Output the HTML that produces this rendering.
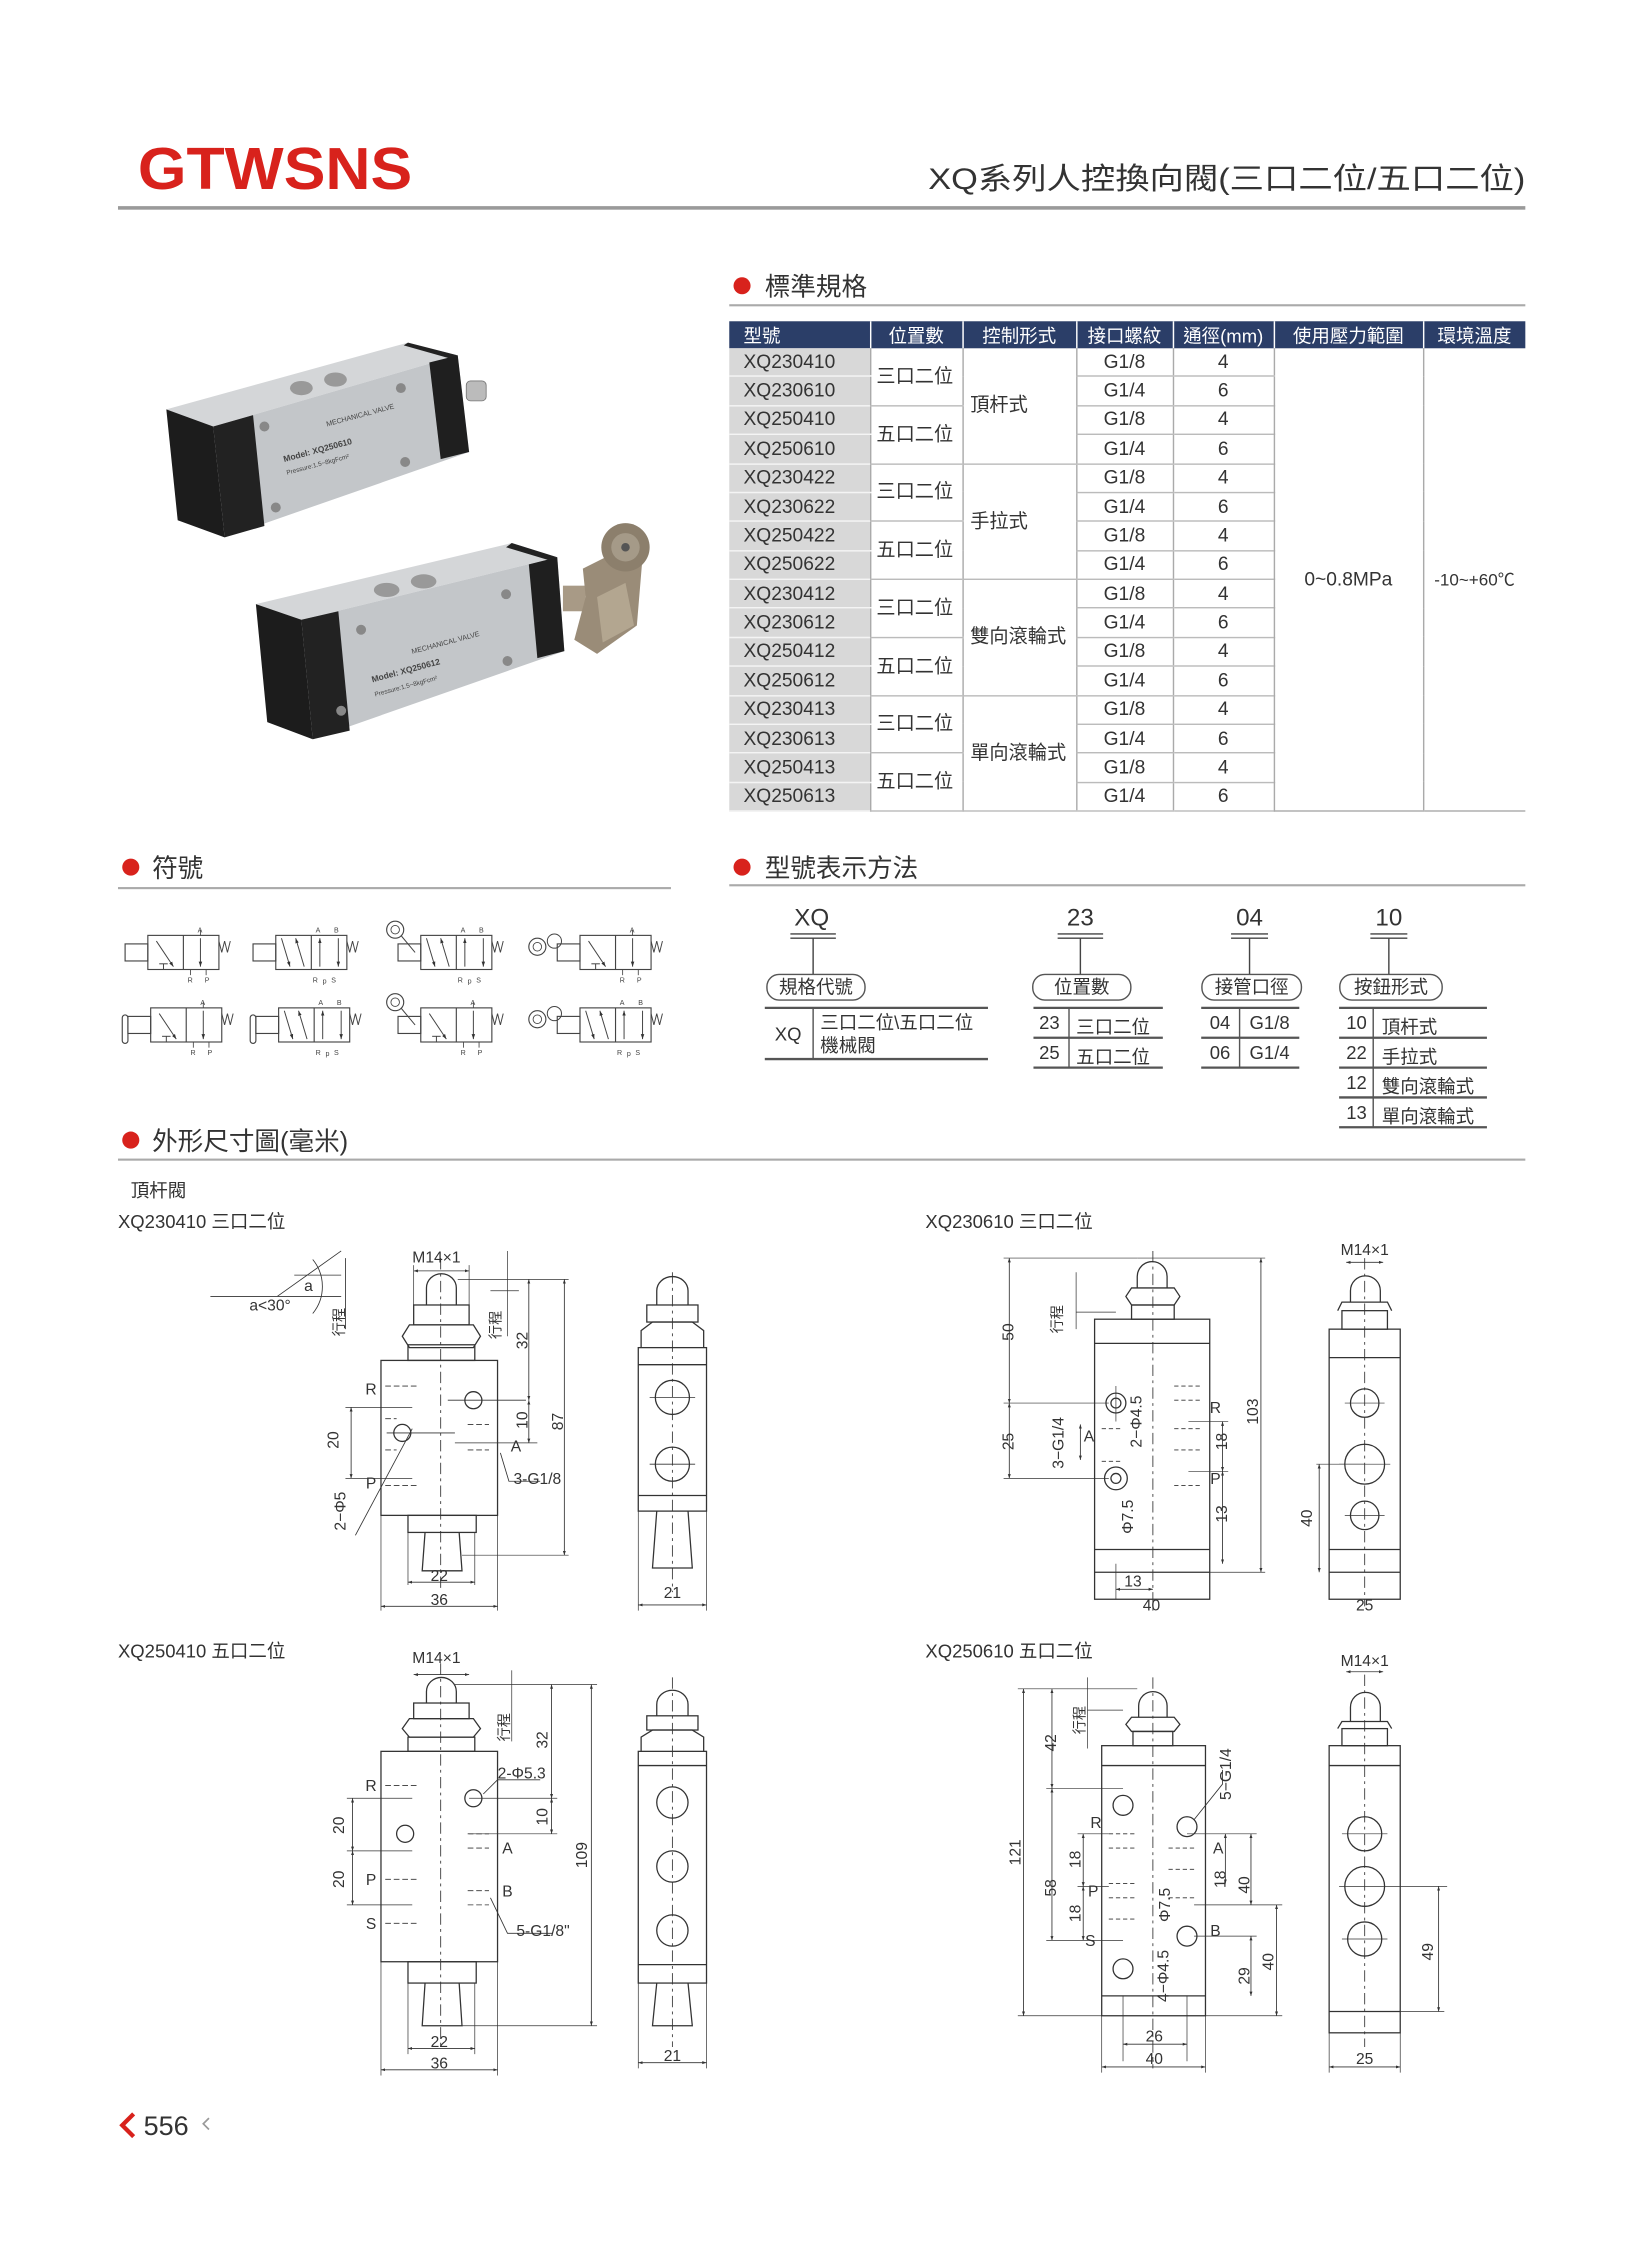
<!DOCTYPE html>
<html><head><meta charset="utf-8">
<style>
html,body{margin:0;padding:0;background:#fff;}
body{width:1649px;height:2243px;overflow:hidden;position:relative;}
#w{position:absolute;left:0;top:0;width:1160px;height:1578px;transform:scale(1.42155);transform-origin:0 0;font-family:"Liberation Sans","Noto Sans CJK TC",sans-serif;color:#333;}
.abs{position:absolute;}
table.spec{position:absolute;left:513px;top:226px;width:560px;border-collapse:collapse;table-layout:fixed;font-size:13.5px;color:#333;}
table.spec th{background:#2b3e68;color:#fff;font-weight:normal;height:19px;padding:0;font-size:13px;border-left:1px solid #fff;text-align:center;}
table.spec th:first-child{text-align:left;padding-left:10px;border-left:none;}
table.spec td{height:19.375px;padding:0;border-bottom:1px solid #bbb;border-left:1px solid #aaa;text-align:center;line-height:14px;}
table.spec td.m{background:#d8d8d8;text-align:left;padding-left:10px;border-bottom:1px solid #f4f4f4;border-left:none;}
table.spec td.p{text-align:left;padding-left:4px;}
table.spec td.c{text-align:left;padding-left:5px;}
.code{position:absolute;font-size:13px;color:#333;}
.pill{position:absolute;height:17px;border:1px solid #555;border-radius:9px;text-align:center;font-size:13px;line-height:17px;background:#fff;}
.big{position:absolute;font-size:17px;text-align:center;}
</style></head><body><div id="w">

<svg class="abs" style="left:0;top:0" width="1160" height="1578" viewBox="0 0 1160 1578" font-family="Liberation Sans, Noto Sans CJK TC, sans-serif">
<defs>
<marker id="ar" viewBox="0 0 10 10" refX="10" refY="5" markerWidth="5" markerHeight="5" orient="auto-start-reverse"><path d="M0,1.5 L10,5 L0,8.5 z" fill="#333"/></marker>
<g id="sym3">
 <rect x="0" y="12" width="16" height="12" fill="none" stroke="#444" stroke-width="0.8"/>
 <rect x="16" y="6" width="50" height="24" fill="none" stroke="#444" stroke-width="0.8"/>
 <line x1="41" y1="6" x2="41" y2="30" stroke="#444" stroke-width="0.8"/>
 <line x1="22" y1="10" x2="34" y2="28" stroke="#444" stroke-width="0.7" marker-end="url(#ar)"/>
 <line x1="53" y1="8" x2="53" y2="28" stroke="#444" stroke-width="0.7" marker-end="url(#ar)"/>
 <line x1="24" y1="26" x2="30" y2="26" stroke="#444" stroke-width="0.7"/>
 <line x1="27" y1="26" x2="27" y2="30" stroke="#444" stroke-width="0.7"/>
 <path d="M66,10 l2,8 l2,-8 l2,8 l2,-8" fill="none" stroke="#444" stroke-width="0.7"/>
 <line x1="53" y1="2" x2="53" y2="6" stroke="#444" stroke-width="0.6"/>
 <line x1="46" y1="30" x2="46" y2="34" stroke="#444" stroke-width="0.6"/><line x1="57" y1="30" x2="57" y2="34" stroke="#444" stroke-width="0.6"/>
 <text x="51" y="4" font-size="5" fill="#444">A</text><text x="44" y="39" font-size="5" fill="#444">R</text><text x="56" y="39" font-size="5" fill="#444">P</text>
</g>
<g id="sym5">
 <rect x="0" y="12" width="16" height="12" fill="none" stroke="#444" stroke-width="0.8"/>
 <rect x="16" y="6" width="50" height="24" fill="none" stroke="#444" stroke-width="0.8"/>
 <line x1="41" y1="6" x2="41" y2="30" stroke="#444" stroke-width="0.8"/>
 <line x1="20" y1="8" x2="26" y2="28" stroke="#444" stroke-width="0.7" marker-end="url(#ar)"/>
 <line x1="36" y1="28" x2="30" y2="8" stroke="#444" stroke-width="0.7" marker-end="url(#ar)"/>
 <line x1="47" y1="28" x2="47" y2="8" stroke="#444" stroke-width="0.7" marker-end="url(#ar)"/>
 <line x1="60" y1="8" x2="60" y2="28" stroke="#444" stroke-width="0.7" marker-end="url(#ar)"/>
 <path d="M66,10 l2,8 l2,-8 l2,8 l2,-8" fill="none" stroke="#444" stroke-width="0.7"/>
 <text x="44" y="4" font-size="5" fill="#444">A</text><text x="57" y="4" font-size="5" fill="#444">B</text>
 <text x="42" y="39" font-size="5" fill="#444">R</text><text x="49" y="40" font-size="5" fill="#444">p</text><text x="55" y="39" font-size="5" fill="#444">S</text>
</g>
</defs>

<!-- header -->
<text x="97" y="133" font-size="42" font-weight="bold" fill="#d8221c" textLength="193" lengthAdjust="spacingAndGlyphs">GTWSNS</text>
<text x="653" y="133" font-size="21" fill="#333" textLength="420" lengthAdjust="spacingAndGlyphs">XQ系列人控換向閥(三口二位/五口二位)</text>
<rect x="83" y="145" width="990" height="2.5" fill="#9a9a9a"/>

<!-- photo -->
<g>
 <polygon points="117,288 287,241 322,250 150,300" fill="#d4d6d8"/>
 <polygon points="150,300 322,250 330,318 158,378" fill="#c3c6c9"/>
 <polygon points="117,288 150,300 158,378 125,366" fill="#1c1c1c"/>
 <polygon points="150,300 178,292 186,370 158,378" fill="#222"/>
 <polygon points="287,241 322,250 316,252 284,243" fill="#222"/>
 <polygon points="302,255 322,250 330,318 310,323" fill="#1f1f1f"/>
 <rect x="328" y="268" width="14" height="14" rx="3" fill="#bbb" stroke="#777" stroke-width="0.6"/>
 <ellipse cx="212" cy="273" rx="8" ry="5" fill="#999"/><ellipse cx="236" cy="267" rx="8" ry="5" fill="#999"/>
 <circle cx="186" cy="300" r="3.5" fill="#888"/><circle cx="282" cy="273" r="3.5" fill="#888"/><circle cx="285" cy="325" r="3.5" fill="#888"/><circle cx="194" cy="357" r="3.5" fill="#888"/>
 <text x="230" y="300" font-size="5" fill="#444" transform="rotate(-15 230 300)">MECHANICAL VALVE</text>
 <text x="200" y="325" font-size="6" font-weight="bold" fill="#444" transform="rotate(-15 200 325)">Model: XQ250610</text>
 <text x="202" y="334" font-size="4.5" fill="#444" transform="rotate(-15 202 334)">Pressure:1.5~8kgFcm²</text>

 <polygon points="180,425 360,382 392,392 212,436" fill="#d4d6d8"/>
 <polygon points="212,436 392,392 397,458 220,520" fill="#c3c6c9"/>
 <polygon points="180,425 212,436 220,520 188,508" fill="#1c1c1c"/>
 <polygon points="212,436 238,430 246,514 220,520" fill="#222"/>
 <polygon points="372,397 392,392 397,458 378,463" fill="#1f1f1f"/>
 <polygon points="360,382 392,392 386,394 356,385" fill="#222"/>
 <ellipse cx="272" cy="415" rx="9" ry="5" fill="#999"/><ellipse cx="298" cy="409" rx="9" ry="5" fill="#999"/>
 <circle cx="254" cy="443" r="3.5" fill="#888"/><circle cx="356" cy="418" r="3.5" fill="#888"/><circle cx="357" cy="465" r="3.5" fill="#888"/><circle cx="240" cy="500" r="3.5" fill="#888"/>
 <text x="290" y="460" font-size="5" fill="#444" transform="rotate(-15 290 460)">MECHANICAL VALVE</text>
 <text x="262" y="480" font-size="6" font-weight="bold" fill="#444" transform="rotate(-15 262 480)">Model: XQ250612</text>
 <text x="264" y="490" font-size="4.5" fill="#444" transform="rotate(-15 264 490)">Pressure:1.5~8kgFcm²</text>
 <rect x="396" y="412" width="16" height="18" fill="#a89a86"/>
 <polygon points="410,400 440,385 452,392 448,440 420,460 404,450 412,420" fill="#9a8c78"/>
 <polygon points="420,420 440,410 446,440 424,452" fill="#b3a690"/>
 <circle cx="440" cy="385" r="17" fill="#8c7f6c"/><circle cx="440" cy="385" r="10" fill="#a59a88"/><circle cx="440" cy="385" r="3" fill="#555"/>
</g>

<!-- section headers -->
<circle cx="522" cy="201" r="6" fill="#d8221c"/>
<text x="538" y="208" font-size="18" fill="#333">標準規格</text>
<rect x="513" y="214" width="560" height="1.5" fill="#aaa"/>

<circle cx="92" cy="610" r="6" fill="#d8221c"/>
<text x="107" y="617" font-size="18" fill="#333">符號</text>
<rect x="83" y="624" width="389" height="1.5" fill="#aaa"/>

<circle cx="522" cy="610" r="6" fill="#d8221c"/>
<text x="538" y="617" font-size="18" fill="#333">型號表示方法</text>
<rect x="513" y="622" width="560" height="1.5" fill="#aaa"/>

<circle cx="92" cy="802" r="6" fill="#d8221c"/>
<text x="107" y="809" font-size="18" fill="#333">外形尺寸圖(毫米)</text>
<rect x="83" y="815" width="990" height="1.5" fill="#aaa"/>

<!-- symbols -->
<use href="#sym3" x="88" y="652"/>
<use href="#sym5" x="178" y="652"/>
<g transform="translate(270,646)"><circle cx="8" cy="8" r="6" fill="none" stroke="#444" stroke-width="0.8"/><circle cx="8" cy="8" r="3" fill="none" stroke="#444" stroke-width="0.6"/><line x1="12" y1="12" x2="22" y2="24" stroke="#444" stroke-width="0.7"/></g>
<use href="#sym5" x="280" y="652"/>
<g transform="translate(370,652)"><circle cx="8" cy="14" r="6" fill="none" stroke="#444" stroke-width="0.8"/><circle cx="8" cy="14" r="3" fill="none" stroke="#444" stroke-width="0.6"/><circle cx="20" cy="10" r="5" fill="none" stroke="#444" stroke-width="0.7"/></g>
<use href="#sym3" x="392" y="652"/>

<g transform="translate(86,706)"><rect x="0" y="8" width="4" height="20" rx="2" fill="none" stroke="#444" stroke-width="0.8"/></g>
<use href="#sym3" x="90" y="703"/>
<g transform="translate(176,706)"><rect x="0" y="8" width="4" height="20" rx="2" fill="none" stroke="#444" stroke-width="0.8"/></g>
<use href="#sym5" x="180" y="703"/>
<g transform="translate(270,697)"><circle cx="8" cy="8" r="6" fill="none" stroke="#444" stroke-width="0.8"/><circle cx="8" cy="8" r="3" fill="none" stroke="#444" stroke-width="0.6"/><line x1="12" y1="12" x2="22" y2="24" stroke="#444" stroke-width="0.7"/></g>
<use href="#sym3" x="280" y="703"/>
<g transform="translate(370,703)"><circle cx="8" cy="14" r="6" fill="none" stroke="#444" stroke-width="0.8"/><circle cx="8" cy="14" r="3" fill="none" stroke="#444" stroke-width="0.6"/><circle cx="20" cy="10" r="5" fill="none" stroke="#444" stroke-width="0.7"/></g>
<use href="#sym5" x="392" y="703"/>

<!-- model code lines -->
<g stroke="#444" stroke-width="1" fill="none">
 <line x1="556" y1="657" x2="588" y2="657"/><line x1="556" y1="660" x2="588" y2="660"/><line x1="572" y1="660" x2="572" y2="686"/>
 <line x1="744" y1="657" x2="776" y2="657"/><line x1="744" y1="660" x2="776" y2="660"/><line x1="760" y1="660" x2="760" y2="686"/>
 <line x1="866" y1="657" x2="892" y2="657"/><line x1="866" y1="660" x2="892" y2="660"/><line x1="879" y1="660" x2="879" y2="686"/>
 <line x1="964" y1="657" x2="990" y2="657"/><line x1="964" y1="660" x2="990" y2="660"/><line x1="977" y1="660" x2="977" y2="686"/>
</g>
<g stroke="#555" stroke-width="1.6">
 <line x1="538" y1="709" x2="695" y2="709"/><line x1="538" y1="745" x2="695" y2="745"/>
 <line x1="727" y1="709" x2="818" y2="709"/><line x1="727" y1="730" x2="818" y2="730"/><line x1="727" y1="751" x2="818" y2="751"/>
 <line x1="845" y1="709" x2="914" y2="709"/><line x1="845" y1="730" x2="914" y2="730"/><line x1="845" y1="751" x2="914" y2="751"/>
 <line x1="942" y1="709" x2="1046" y2="709"/><line x1="942" y1="730" x2="1046" y2="730"/><line x1="942" y1="751" x2="1046" y2="751"/><line x1="942" y1="772" x2="1046" y2="772"/><line x1="942" y1="793" x2="1046" y2="793"/>
</g>
<g stroke="#555" stroke-width="1">
 <line x1="572" y1="709" x2="572" y2="745"/><line x1="752" y1="709" x2="752" y2="751"/><line x1="872" y1="709" x2="872" y2="751"/><line x1="966" y1="709" x2="966" y2="793"/>
</g>

<!-- drawings -->
<g font-size="11" fill="#333">
<text x="92" y="842" font-size="13">頂杆閥</text>
<text x="83" y="864" font-size="13">XQ230410 三口二位</text>
<text x="651" y="864" font-size="13">XQ230610 三口二位</text>
<text x="83" y="1166" font-size="13">XQ250410 五口二位</text>
<text x="651" y="1166" font-size="13">XQ250610 五口二位</text>
</g>

<g stroke="#333" stroke-width="0.9" fill="none">
 <!-- D1 front -->
 <rect x="268" y="957" width="82" height="109"/>
 <rect x="287" y="946" width="47" height="11"/>
 <path d="M283,940 l5,-8 h45 l5,8 l-5,8 h-45 z"/>
 <rect x="291" y="918" width="39" height="14"/>
 <path d="M300,918 v-12 a10.5,10 0 0 1 21,0 v12"/>
 <rect x="287" y="1066" width="48" height="12"/>
 <path d="M299,1078 l-2,27 h28 l-2,-27"/>
 <line x1="310" y1="885" x2="310" y2="1120" stroke-dasharray="8,3,2,3" stroke-width="0.6"/>
 <circle cx="283" cy="1008" r="6"/><circle cx="333" cy="985" r="6"/>
 <line x1="272" y1="1008" x2="320" y2="1008" stroke-width="0.6"/><line x1="315" y1="985" x2="370" y2="985" stroke-width="0.6"/>
 <path d="M271,975 h10 M283,975 h4 M289,975 h4 M271,1045 h10 M283,1045 h4 M289,1045 h4 M271,998 h8 M271,1020 h8 M329,1002 h15 M329,1020 h15" stroke-dasharray="4,2" stroke-width="0.6"/>
 <!-- dims -->
 <line x1="291" y1="894" x2="330" y2="894" marker-start="url(#ar)" marker-end="url(#ar)" stroke-width="0.6"/>
 <line x1="291" y1="890" x2="291" y2="918" stroke-width="0.5"/><line x1="330" y1="890" x2="330" y2="918" stroke-width="0.5"/>
 <line x1="322" y1="900" x2="400" y2="900" stroke-width="0.5"/>
 <line x1="372" y1="900" x2="372" y2="985" marker-start="url(#ar)" marker-end="url(#ar)" stroke-width="0.6"/>
 <line x1="372" y1="985" x2="372" y2="1015" marker-start="url(#ar)" marker-end="url(#ar)" stroke-width="0.6"/>
 <line x1="320" y1="1015" x2="378" y2="1015" stroke-width="0.5"/>
 <line x1="397" y1="900" x2="397" y2="1094" marker-start="url(#ar)" marker-end="url(#ar)" stroke-width="0.6"/>
 <line x1="325" y1="1094" x2="400" y2="1094" stroke-width="0.5"/>
 <line x1="247" y1="990" x2="247" y2="1040" marker-start="url(#ar)" marker-end="url(#ar)" stroke-width="0.6"/>
 <line x1="243" y1="990" x2="290" y2="990" stroke-width="0.5"/><line x1="243" y1="1040" x2="290" y2="1040" stroke-width="0.5"/>
 <line x1="287" y1="1078" x2="287" y2="1115" stroke-width="0.5"/><line x1="334" y1="1078" x2="334" y2="1115" stroke-width="0.5"/>
 <line x1="287" y1="1113" x2="334" y2="1113" marker-start="url(#ar)" marker-end="url(#ar)" stroke-width="0.6"/>
 <line x1="268" y1="1066" x2="268" y2="1133" stroke-width="0.5"/><line x1="350" y1="1066" x2="350" y2="1133" stroke-width="0.5"/>
 <line x1="268" y1="1130" x2="350" y2="1130" marker-start="url(#ar)" marker-end="url(#ar)" stroke-width="0.6"/>
 <path d="M352,1022 l6,20 h22" stroke-width="0.6"/>
 <path d="M250,1080 l40,-75" stroke-width="0.6"/>
 <!-- angle sketch -->
 <line x1="148" y1="912" x2="240" y2="912" stroke-width="0.6"/><line x1="195" y1="912" x2="240" y2="880" stroke-width="0.6"/>
 <line x1="207" y1="897" x2="240" y2="897" stroke-width="0.6"/>
 <path d="M220,886 a30,30 0 0 1 0,38" stroke-width="0.6"/>
 <line x1="243" y1="885" x2="243" y2="935" stroke-width="0.6"/>
 <!-- stroke mark -->
 <line x1="345" y1="908" x2="365" y2="908" stroke-width="0.5"/><line x1="357" y1="880" x2="357" y2="940" stroke-width="0.5"/>

 <!-- D1 side -->
 <rect x="449" y="948" width="48" height="115"/>
 <line x1="449" y1="960" x2="497" y2="960"/><line x1="449" y1="1052" x2="497" y2="1052"/>
 <path d="M451,948 v-12 l8,-6 h28 l8,6 v12"/>
 <rect x="455" y="918" width="36" height="12"/>
 <path d="M462,918 v-10 a11,10 0 0 1 22,0 v10"/>
 <path d="M462,1063 l-3,40 h28 l-3,-40"/>
 <circle cx="473" cy="983" r="12"/><circle cx="473" cy="1030" r="12"/>
 <line x1="473" y1="895" x2="473" y2="1120" stroke-dasharray="8,3,2,3" stroke-width="0.6"/>
 <line x1="457" y1="983" x2="489" y2="983" stroke-width="0.6"/><line x1="457" y1="1030" x2="489" y2="1030" stroke-width="0.6"/>
 <line x1="449" y1="1063" x2="449" y2="1133" stroke-width="0.5"/><line x1="497" y1="1063" x2="497" y2="1133" stroke-width="0.5"/>
 <line x1="449" y1="1129" x2="497" y2="1129" marker-start="url(#ar)" marker-end="url(#ar)" stroke-width="0.6"/>

 <!-- D2 front -->
 <rect x="770" y="928" width="81" height="197"/>
 <line x1="770" y1="945" x2="851" y2="945"/><line x1="770" y1="1090" x2="851" y2="1090"/><line x1="770" y1="1106" x2="851" y2="1106"/>
 <rect x="796" y="918" width="30" height="10"/>
 <path d="M792,912 l4,-6 h30 l4,6 l-4,6 h-30 z"/>
 <path d="M800,906 v-8 a10,10 0 0 1 21,0 v8"/>
 <line x1="811" y1="880" x2="811" y2="1135" stroke-dasharray="8,3,2,3" stroke-width="0.6"/>
 <circle cx="785" cy="987" r="7"/><circle cx="785" cy="987" r="3.5"/>
 <circle cx="785" cy="1040" r="8"/><circle cx="785" cy="1040" r="3.5"/>
 <line x1="785" y1="975" x2="785" y2="1000" stroke-width="0.5"/>
 <path d="M826,975 h20 M826,985 h20 M826,1005 h20 M826,1020 h20 M826,1045 h20 M775,1005 h15 M775,1028 h15" stroke-dasharray="3,2" stroke-width="0.6"/>
 <line x1="800" y1="885" x2="890" y2="885" stroke-width="0.5"/>
 <line x1="887" y1="885" x2="887" y2="1106" marker-start="url(#ar)" marker-end="url(#ar)" stroke-width="0.6"/>
 <line x1="851" y1="1106" x2="890" y2="1106" stroke-width="0.5"/>
 <line x1="706" y1="885" x2="800" y2="885" stroke-width="0.5"/>
 <line x1="710" y1="885" x2="710" y2="987" marker-start="url(#ar)" marker-end="url(#ar)" stroke-width="0.6"/>
 <line x1="710" y1="987" x2="710" y2="1040" marker-start="url(#ar)" marker-end="url(#ar)" stroke-width="0.6"/>
 <line x1="706" y1="987" x2="780" y2="987" stroke-width="0.5"/><line x1="706" y1="1040" x2="780" y2="1040" stroke-width="0.5"/>
 <line x1="860" y1="1000" x2="860" y2="1035" marker-start="url(#ar)" marker-end="url(#ar)" stroke-width="0.6"/>
 <line x1="860" y1="1035" x2="860" y2="1100" marker-start="url(#ar)" marker-end="url(#ar)" stroke-width="0.6"/>
 <line x1="836" y1="1000" x2="864" y2="1000" stroke-width="0.5"/><line x1="836" y1="1035" x2="864" y2="1035" stroke-width="0.5"/>
 <line x1="760" y1="1002" x2="760" y2="1027" marker-start="url(#ar)" marker-end="url(#ar)" stroke-width="0.6"/>
 <line x1="785" y1="1100" x2="785" y2="1125" stroke-width="0.5"/>
 <line x1="785" y1="1118" x2="811" y2="1118" marker-start="url(#ar)" marker-end="url(#ar)" stroke-width="0.6"/>
 <line x1="757" y1="895" x2="757" y2="935" stroke-width="0.5"/><line x1="757" y1="923" x2="785" y2="923" stroke-width="0.5"/>
 <!-- D2 side -->
 <rect x="935" y="935" width="50" height="190"/>
 <line x1="935" y1="955" x2="985" y2="955"/><line x1="935" y1="1090" x2="985" y2="1090"/><line x1="935" y1="1106" x2="985" y2="1106"/>
 <rect x="944" y="922" width="32" height="13"/>
 <path d="M941,922 l3,-6 h32 l3,6"/>
 <path d="M950,916 v-8 a10,10 0 0 1 21,0 v8"/>
 <line x1="960" y1="885" x2="960" y2="1130" stroke-dasharray="8,3,2,3" stroke-width="0.6"/>
 <circle cx="960" cy="987" r="10"/><circle cx="960" cy="1030" r="14"/><circle cx="960" cy="1066" r="10"/>
 <line x1="946" y1="987" x2="974" y2="987" stroke-width="0.5"/><line x1="942" y1="1030" x2="978" y2="1030" stroke-width="0.5"/><line x1="946" y1="1066" x2="974" y2="1066" stroke-width="0.5"/>
 <line x1="947" y1="888" x2="973" y2="888" marker-start="url(#ar)" marker-end="url(#ar)" stroke-width="0.6"/>
 <line x1="926" y1="1030" x2="960" y2="1030" stroke-width="0.5"/>
 <line x1="928" y1="1030" x2="928" y2="1106" marker-start="url(#ar)" marker-end="url(#ar)" stroke-width="0.6"/>

 <!-- D3 front -->
 <rect x="268" y="1232" width="82" height="148"/>
 <rect x="287" y="1222" width="47" height="10"/>
 <path d="M283,1216 l5,-7 h45 l5,7 l-5,6 h-45 z"/>
 <rect x="291" y="1198" width="39" height="11"/>
 <path d="M300,1198 v-8 a10.5,10 0 0 1 21,0 v8"/>
 <rect x="287" y="1380" width="48" height="15"/>
 <path d="M299,1395 l-2,30 h28 l-2,-30"/>
 <line x1="310" y1="1170" x2="310" y2="1440" stroke-dasharray="8,3,2,3" stroke-width="0.6"/>
 <circle cx="285" cy="1290" r="6"/><circle cx="333" cy="1265" r="6"/>
 <path d="M271,1256 h10 M283,1256 h4 M289,1256 h4 M271,1322 h10 M283,1322 h4 M289,1322 h4 M271,1353 h10 M283,1353 h4 M289,1353 h4 M329,1290 h15 M329,1300 h15 M329,1330 h15 M329,1340 h15" stroke-dasharray="4,2" stroke-width="0.6"/>
 <line x1="291" y1="1178" x2="330" y2="1178" marker-start="url(#ar)" marker-end="url(#ar)" stroke-width="0.6"/>
 <line x1="320" y1="1185" x2="420" y2="1185" stroke-width="0.5"/>
 <line x1="388" y1="1185" x2="388" y2="1265" marker-start="url(#ar)" marker-end="url(#ar)" stroke-width="0.6"/>
 <line x1="388" y1="1265" x2="388" y2="1290" marker-start="url(#ar)" marker-end="url(#ar)" stroke-width="0.6"/>
 <line x1="330" y1="1265" x2="392" y2="1265" stroke-width="0.5"/><line x1="330" y1="1290" x2="392" y2="1290" stroke-width="0.5"/>
 <line x1="416" y1="1185" x2="416" y2="1425" marker-start="url(#ar)" marker-end="url(#ar)" stroke-width="0.6"/>
 <line x1="325" y1="1425" x2="420" y2="1425" stroke-width="0.5"/>
 <line x1="248" y1="1265" x2="248" y2="1302" marker-start="url(#ar)" marker-end="url(#ar)" stroke-width="0.6"/>
 <line x1="248" y1="1302" x2="248" y2="1340" marker-start="url(#ar)" marker-end="url(#ar)" stroke-width="0.6"/>
 <line x1="244" y1="1265" x2="290" y2="1265" stroke-width="0.5"/><line x1="244" y1="1302" x2="290" y2="1302" stroke-width="0.5"/><line x1="244" y1="1340" x2="290" y2="1340" stroke-width="0.5"/>
 <line x1="287" y1="1395" x2="287" y2="1445" stroke-width="0.5"/><line x1="334" y1="1395" x2="334" y2="1445" stroke-width="0.5"/>
 <line x1="287" y1="1441" x2="334" y2="1441" marker-start="url(#ar)" marker-end="url(#ar)" stroke-width="0.6"/>
 <line x1="268" y1="1380" x2="268" y2="1460" stroke-width="0.5"/><line x1="350" y1="1380" x2="350" y2="1460" stroke-width="0.5"/>
 <line x1="268" y1="1456" x2="350" y2="1456" marker-start="url(#ar)" marker-end="url(#ar)" stroke-width="0.6"/>
 <path d="M340,1262 l10,-10 h30" stroke-width="0.6"/><path d="M345,1335 l12,25 h32" stroke-width="0.6"/>
 <line x1="360" y1="1175" x2="360" y2="1225" stroke-width="0.5"/>
 <!-- D3 side -->
 <rect x="449" y="1232" width="48" height="163"/>
 <line x1="449" y1="1242" x2="497" y2="1242"/><line x1="449" y1="1382" x2="497" y2="1382"/>
 <path d="M451,1232 v-10 l8,-5 h28 l8,5 v10"/>
 <rect x="455" y="1207" width="36" height="10"/>
 <path d="M462,1207 v-8 a11,10 0 0 1 22,0 v8"/>
 <path d="M462,1395 l-3,30 h28 l-3,-30"/>
 <circle cx="473" cy="1268" r="11"/><circle cx="473" cy="1313" r="11"/><circle cx="473" cy="1358" r="11"/>
 <line x1="473" y1="1180" x2="473" y2="1440" stroke-dasharray="8,3,2,3" stroke-width="0.6"/>
 <line x1="449" y1="1395" x2="449" y2="1455" stroke-width="0.5"/><line x1="497" y1="1395" x2="497" y2="1455" stroke-width="0.5"/>
 <line x1="449" y1="1451" x2="497" y2="1451" marker-start="url(#ar)" marker-end="url(#ar)" stroke-width="0.6"/>

 <!-- D4 front -->
 <rect x="775" y="1228" width="73" height="190"/>
 <line x1="775" y1="1242" x2="848" y2="1242"/><line x1="775" y1="1404" x2="848" y2="1404"/>
 <rect x="797" y="1218" width="28" height="10"/>
 <path d="M792,1213 l4,-5 h30 l4,5 l-4,5 h-30 z"/>
 <path d="M801,1208 v-8 a10,10 0 0 1 20,0 v8"/>
 <line x1="811" y1="1180" x2="811" y2="1455" stroke-dasharray="8,3,2,3" stroke-width="0.6"/>
 <circle cx="790" cy="1270" r="7"/><circle cx="835" cy="1285" r="7"/><circle cx="790" cy="1385" r="7"/><circle cx="835" cy="1362" r="7"/>
 <path d="M780,1290 h20 M780,1300 h20 M780,1325 h20 M780,1335 h20 M780,1350 h20 M822,1300 h18 M822,1315 h18 M822,1335 h18" stroke-dasharray="3,2" stroke-width="0.6"/>
 <line x1="716" y1="1188" x2="800" y2="1188" stroke-width="0.5"/>
 <line x1="720" y1="1188" x2="720" y2="1418" marker-start="url(#ar)" marker-end="url(#ar)" stroke-width="0.6"/>
 <line x1="716" y1="1418" x2="775" y2="1418" stroke-width="0.5"/>
 <line x1="740" y1="1188" x2="740" y2="1258" marker-start="url(#ar)" marker-end="url(#ar)" stroke-width="0.6"/>
 <line x1="740" y1="1258" x2="740" y2="1365" marker-start="url(#ar)" marker-end="url(#ar)" stroke-width="0.6"/>
 <line x1="736" y1="1258" x2="790" y2="1258" stroke-width="0.5"/><line x1="736" y1="1365" x2="790" y2="1365" stroke-width="0.5"/>
 <line x1="762" y1="1290" x2="762" y2="1327" marker-start="url(#ar)" marker-end="url(#ar)" stroke-width="0.6"/>
 <line x1="762" y1="1327" x2="762" y2="1365" marker-start="url(#ar)" marker-end="url(#ar)" stroke-width="0.6"/>
 <line x1="758" y1="1290" x2="780" y2="1290" stroke-width="0.5"/><line x1="758" y1="1327" x2="780" y2="1327" stroke-width="0.5"/>
 <line x1="862" y1="1290" x2="862" y2="1325" marker-start="url(#ar)" marker-end="url(#ar)" stroke-width="0.6"/>
 <line x1="880" y1="1290" x2="880" y2="1340" marker-start="url(#ar)" marker-end="url(#ar)" stroke-width="0.6"/>
 <line x1="880" y1="1362" x2="880" y2="1404" marker-start="url(#ar)" marker-end="url(#ar)" stroke-width="0.6"/>
 <line x1="898" y1="1340" x2="898" y2="1418" marker-start="url(#ar)" marker-end="url(#ar)" stroke-width="0.6"/>
 <line x1="835" y1="1290" x2="884" y2="1290" stroke-width="0.5"/><line x1="840" y1="1340" x2="902" y2="1340" stroke-width="0.5"/><line x1="840" y1="1362" x2="884" y2="1362" stroke-width="0.5"/><line x1="848" y1="1418" x2="902" y2="1418" stroke-width="0.5"/>
 <line x1="790" y1="1404" x2="790" y2="1450" stroke-width="0.5"/><line x1="835" y1="1404" x2="835" y2="1450" stroke-width="0.5"/>
 <line x1="790" y1="1438" x2="835" y2="1438" marker-start="url(#ar)" marker-end="url(#ar)" stroke-width="0.6"/>
 <line x1="775" y1="1418" x2="775" y2="1458" stroke-width="0.5"/><line x1="848" y1="1418" x2="848" y2="1458" stroke-width="0.5"/>
 <line x1="775" y1="1454" x2="848" y2="1454" marker-start="url(#ar)" marker-end="url(#ar)" stroke-width="0.6"/>
 <path d="M840,1280 l20,-25 v-10" stroke-width="0.6"/>
 <line x1="765" y1="1180" x2="765" y2="1230" stroke-width="0.5"/><line x1="765" y1="1203" x2="790" y2="1203" stroke-width="0.5"/>
 <!-- D4 side -->
 <rect x="935" y="1228" width="50" height="202"/>
 <line x1="935" y1="1242" x2="985" y2="1242"/><line x1="935" y1="1415" x2="985" y2="1415"/>
 <rect x="944" y="1216" width="32" height="12"/>
 <path d="M941,1216 l3,-5 h32 l3,5"/>
 <path d="M950,1211 v-10 a10,10 0 0 1 21,0 v10"/>
 <line x1="960" y1="1178" x2="960" y2="1440" stroke-dasharray="8,3,2,3" stroke-width="0.6"/>
 <circle cx="960" cy="1290" r="12"/><circle cx="960" cy="1327" r="14"/><circle cx="960" cy="1364" r="12"/>
 <line x1="944" y1="1290" x2="976" y2="1290" stroke-width="0.5"/><line x1="942" y1="1327" x2="1018" y2="1327" stroke-width="0.5"/><line x1="944" y1="1364" x2="976" y2="1364" stroke-width="0.5"/>
 <line x1="947" y1="1176" x2="973" y2="1176" marker-start="url(#ar)" marker-end="url(#ar)" stroke-width="0.6"/>
 <line x1="1012" y1="1327" x2="1012" y2="1415" marker-start="url(#ar)" marker-end="url(#ar)" stroke-width="0.6"/>
 <line x1="985" y1="1415" x2="1016" y2="1415" stroke-width="0.5"/>
 <line x1="935" y1="1430" x2="935" y2="1458" stroke-width="0.5"/><line x1="985" y1="1430" x2="985" y2="1458" stroke-width="0.5"/>
 <line x1="935" y1="1454" x2="985" y2="1454" marker-start="url(#ar)" marker-end="url(#ar)" stroke-width="0.6"/>
</g>

<!-- drawing labels -->
<g font-size="11" fill="#333" text-anchor="middle">
 <text x="307" y="888">M14×1</text>
 <text x="217" y="908">a</text><text x="190" y="922">a&lt;30°</text>
 <text x="242" y="930" font-size="10" transform="rotate(-90 242 930)">行程</text>
 <text x="352" y="932" font-size="10" transform="rotate(-90 352 932)">行程</text>
 <text x="371" y="943" transform="rotate(-90 371 943)">32</text>
 <text x="371" y="999" transform="rotate(-90 371 999)">10</text>
 <text x="396" y="1000" transform="rotate(-90 396 1000)">87</text>
 <text x="238" y="1013" transform="rotate(-90 238 1013)">20</text>
 <text x="243" y="1063" transform="rotate(-90 243 1063)">2−Φ5</text>
 <text x="261" y="981">R</text><text x="261" y="1047">P</text><text x="363" y="1021">A</text>
 <text x="378" y="1044">3-G1/8</text>
 <text x="309" y="1112">22</text><text x="309" y="1129">36</text><text x="473" y="1124">21</text>

 <text x="747" y="928" font-size="10" transform="rotate(-90 747 928)">行程</text>
 <text x="713" y="937" transform="rotate(-90 713 937)">50</text>
 <text x="713" y="1014" transform="rotate(-90 713 1014)">25</text>
 <text x="885" y="993" transform="rotate(-90 885 993)">103</text>
 <text x="863" y="1014" transform="rotate(-90 863 1014)">18</text>
 <text x="863" y="1065" transform="rotate(-90 863 1065)">13</text>
 <text x="748" y="1015" transform="rotate(-90 748 1015)">3−G1/4</text>
 <text x="803" y="1000" transform="rotate(-90 803 1000)">2−Φ4.5</text>
 <text x="797" y="1067" transform="rotate(-90 797 1067)">Φ7.5</text>
 <text x="855" y="994">R</text><text x="855" y="1044">P</text><text x="766" y="1014">A</text>
 <text x="797" y="1116">13</text><text x="810" y="1133">40</text>
 <text x="960" y="883">M14×1</text>
 <text x="923" y="1068" transform="rotate(-90 923 1068)">40</text>
 <text x="960" y="1133">25</text>

 <text x="307" y="1170">M14×1</text>
 <text x="358" y="1215" font-size="10" transform="rotate(-90 358 1215)">行程</text>
 <text x="385" y="1224" transform="rotate(-90 385 1224)">32</text>
 <text x="385" y="1278" transform="rotate(-90 385 1278)">10</text>
 <text x="413" y="1305" transform="rotate(-90 413 1305)">109</text>
 <text x="242" y="1284" transform="rotate(-90 242 1284)">20</text>
 <text x="242" y="1322" transform="rotate(-90 242 1322)">20</text>
 <text x="261" y="1260">R</text><text x="261" y="1326">P</text><text x="261" y="1357">S</text>
 <text x="357" y="1304">A</text><text x="357" y="1334">B</text>
 <text x="367" y="1251">2-Φ5.3</text><text x="382" y="1362">5-G1/8"</text>
 <text x="309" y="1440">22</text><text x="309" y="1455">36</text><text x="473" y="1450">21</text>

 <text x="763" y="1210" font-size="10" transform="rotate(-90 763 1210)">行程</text>
 <text x="718" y="1303" transform="rotate(-90 718 1303)">121</text>
 <text x="743" y="1226" transform="rotate(-90 743 1226)">42</text>
 <text x="743" y="1328" transform="rotate(-90 743 1328)">58</text>
 <text x="760" y="1308" transform="rotate(-90 760 1308)">18</text>
 <text x="760" y="1346" transform="rotate(-90 760 1346)">18</text>
 <text x="862" y="1322" transform="rotate(-90 862 1322)">18</text>
 <text x="879" y="1326" transform="rotate(-90 879 1326)">40</text>
 <text x="879" y="1390" transform="rotate(-90 879 1390)">29</text>
 <text x="896" y="1380" transform="rotate(-90 896 1380)">40</text>
 <text x="866" y="1248" transform="rotate(-90 866 1248)">5−G1/4</text>
 <text x="823" y="1340" transform="rotate(-90 823 1340)">Φ7.5</text>
 <text x="822" y="1390" transform="rotate(-90 822 1390)">4−Φ4.5</text>
 <text x="771" y="1286">R</text><text x="769" y="1334">P</text><text x="767" y="1369">S</text>
 <text x="857" y="1304">A</text><text x="855" y="1362">B</text>
 <text x="812" y="1436">26</text><text x="812" y="1452">40</text>
 <text x="960" y="1172">M14×1</text>
 <text x="1008" y="1373" transform="rotate(-90 1008 1373)">49</text>
 <text x="960" y="1452">25</text>
</g>

<!-- footer -->
<path d="M94,1487 l-8,8 l8,8" fill="none" stroke="#d8221c" stroke-width="3"/>
<text x="101" y="1502" font-size="19" fill="#333">556</text>
<path d="M147,1490 l-4,4 l4,4" fill="none" stroke="#999" stroke-width="1.2"/>
</svg>

<table class="spec">
<colgroup><col style="width:99px"><col style="width:65px"><col style="width:80px"><col style="width:68px"><col style="width:71px"><col style="width:105px"><col style="width:72px"></colgroup>
<tr><th>型號</th><th>位置數</th><th>控制形式</th><th>接口螺紋</th><th>通徑(mm)</th><th>使用壓力範圍</th><th>環境溫度</th></tr>
<tr><td class="m">XQ230410</td><td class="p" rowspan="2">三口二位</td><td class="c" rowspan="4">頂杆式</td><td>G1/8</td><td>4</td><td rowspan="16" style="border-bottom:1px solid #aaa">0~0.8MPa</td><td rowspan="16" style="border-bottom:1px solid #aaa;font-size:12px">-10~+60℃</td></tr>
<tr><td class="m">XQ230610</td><td>G1/4</td><td>6</td></tr>
<tr><td class="m">XQ250410</td><td class="p" rowspan="2">五口二位</td><td>G1/8</td><td>4</td></tr>
<tr><td class="m">XQ250610</td><td>G1/4</td><td>6</td></tr>
<tr><td class="m">XQ230422</td><td class="p" rowspan="2">三口二位</td><td class="c" rowspan="4">手拉式</td><td>G1/8</td><td>4</td></tr>
<tr><td class="m">XQ230622</td><td>G1/4</td><td>6</td></tr>
<tr><td class="m">XQ250422</td><td class="p" rowspan="2">五口二位</td><td>G1/8</td><td>4</td></tr>
<tr><td class="m">XQ250622</td><td>G1/4</td><td>6</td></tr>
<tr><td class="m">XQ230412</td><td class="p" rowspan="2">三口二位</td><td class="c" rowspan="4">雙向滾輪式</td><td>G1/8</td><td>4</td></tr>
<tr><td class="m">XQ230612</td><td>G1/4</td><td>6</td></tr>
<tr><td class="m">XQ250412</td><td class="p" rowspan="2">五口二位</td><td>G1/8</td><td>4</td></tr>
<tr><td class="m">XQ250612</td><td>G1/4</td><td>6</td></tr>
<tr><td class="m">XQ230413</td><td class="p" rowspan="2">三口二位</td><td class="c" rowspan="4">單向滾輪式</td><td>G1/8</td><td>4</td></tr>
<tr><td class="m">XQ230613</td><td>G1/4</td><td>6</td></tr>
<tr><td class="m">XQ250413</td><td class="p" rowspan="2">五口二位</td><td>G1/8</td><td>4</td></tr>
<tr><td class="m">XQ250613</td><td>G1/4</td><td>6</td></tr>
</table>

<!-- model code text -->
<div class="big" style="left:551px;top:636px;width:40px">XQ</div>
<div class="big" style="left:740px;top:636px;width:40px">23</div>
<div class="big" style="left:859px;top:636px;width:40px">04</div>
<div class="big" style="left:957px;top:636px;width:40px">10</div>
<div class="pill" style="left:539px;top:685px;width:68px">規格代號</div>
<div class="pill" style="left:726px;top:685px;width:68px">位置數</div>
<div class="pill" style="left:845px;top:685px;width:69px">接管口徑</div>
<div class="pill" style="left:942px;top:685px;width:71px">按鈕形式</div>
<div class="code" style="left:545px;top:720px">XQ</div>
<div class="code" style="left:577px;top:712px;line-height:16px">三口二位\五口二位<br>機械閥</div>
<div class="code" style="left:731px;top:712px">23</div><div class="code" style="left:757px;top:712px">三口二位</div>
<div class="code" style="left:731px;top:733px">25</div><div class="code" style="left:757px;top:733px">五口二位</div>
<div class="code" style="left:851px;top:712px">04</div><div class="code" style="left:879px;top:712px">G1/8</div>
<div class="code" style="left:851px;top:733px">06</div><div class="code" style="left:879px;top:733px">G1/4</div>
<div class="code" style="left:947px;top:712px">10</div><div class="code" style="left:972px;top:712px">頂杆式</div>
<div class="code" style="left:947px;top:733px">22</div><div class="code" style="left:972px;top:733px">手拉式</div>
<div class="code" style="left:947px;top:754px">12</div><div class="code" style="left:972px;top:754px">雙向滾輪式</div>
<div class="code" style="left:947px;top:775px">13</div><div class="code" style="left:972px;top:775px">單向滾輪式</div>

</div></body></html>
